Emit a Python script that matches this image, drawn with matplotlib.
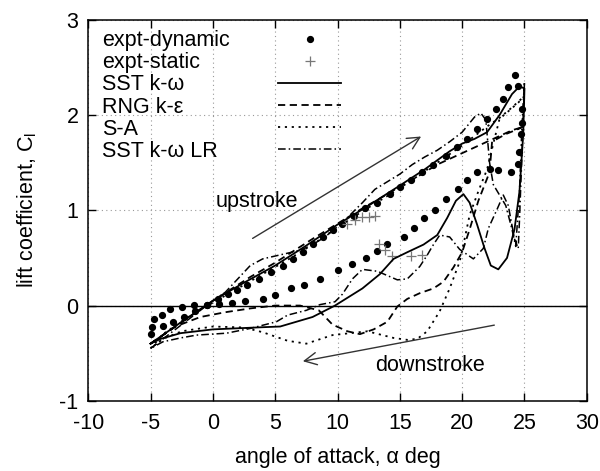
import numpy as np
import matplotlib.pyplot as plt
from matplotlib.lines import Line2D

plt.rcParams['font.family'] = ['Liberation Sans', 'DejaVu Sans']
plt.rcParams['mathtext.fontset'] = 'custom'
plt.rcParams['mathtext.rm'] = 'Liberation Sans'
plt.rcParams['mathtext.it'] = 'Liberation Sans:italic'
plt.rcParams['axes.unicode_minus'] = False

# experiment, dynamic (upstroke then downstroke)
dyn_a = [-5.0, -4.0, -3.2, -2.3, -1.4, -0.5, 0.4, 1.2, 1.9, 2.7, 3.7, 4.7, 5.6, 6.4, 7.2, 8.0, 8.8,
         9.6, 10.4, 11.3, 12.2, 13.2, 14.2, 15.0, 15.9, 16.8, 17.7, 18.7, 19.6, 20.4, 21.2, 22.0,
         22.7, 23.3, 23.7, 24.2,
         24.5, 24.8, 24.8, 24.7, 24.6, 24.5, 23.9, 22.9, 22.2, 21.2, 20.4, 19.7, 18.7, 17.8, 16.9,
         16.1, 15.3, 14.0, 13.2, 12.3, 11.2, 10.0, 8.6, 7.3, 6.3, 5.0, 4.0, 2.6, 1.5, 0.5, -0.5,
         -1.5, -2.5, -3.4, -4.1, -4.7, -4.9]
dyn_cl = [-0.30, -0.21, -0.17, -0.12, -0.06, 0.01, 0.07, 0.12, 0.16, 0.22, 0.28, 0.35, 0.42, 0.49,
          0.56, 0.65, 0.72, 0.79, 0.86, 0.94, 1.02, 1.08, 1.17, 1.24, 1.32, 1.40, 1.48, 1.57, 1.66,
          1.75, 1.85, 1.96, 2.06, 2.17, 2.29, 2.42,
          2.31, 2.06, 1.92, 1.80, 1.61, 1.49, 1.40, 1.42, 1.43, 1.40, 1.32, 1.22, 1.12, 1.00, 0.92,
          0.81, 0.72, 0.65, 0.57, 0.50, 0.44, 0.37, 0.28, 0.22, 0.18, 0.11, 0.07, 0.05, 0.03, 0.02,
          0.01, 0.01, -0.01, -0.04, -0.10, -0.14, -0.22]

# experiment, static
stat_a = [10.8, 11.4, 12.0, 12.5, 13.0, 13.3, 13.8, 14.4, 15.9, 16.8]
stat_cl = [0.86, 0.90, 0.93, 0.93, 0.94, 0.65, 0.58, 0.52, 0.52, 0.53]

# SST k-omega
sst_a = [-5, -2.5, 0, 2.5, 5, 7.5, 10, 12.5, 15, 17, 19, 20, 21, 22, 23, 24, 24.6, 25,
         24.9, 24.6, 24.2, 23.6, 22.9, 22.3, 21.8, 21.2, 20.6, 20.1, 19.5, 18.8, 18.0, 16.9,
         15.6, 14.5, 13.4, 12.0, 9.8, 8.0, 5.4, 3.5, 0, -2.6, -4.2, -5]
sst_cl = [-0.40, -0.17, 0.05, 0.24, 0.42, 0.63, 0.85, 1.05, 1.26, 1.43, 1.62, 1.70, 1.75, 1.82,
          2.00, 2.22, 2.30, 2.28,
          1.80, 1.20, 0.80, 0.50, 0.38, 0.42, 0.60, 0.85, 1.08, 1.17, 1.10, 0.92, 0.74, 0.64,
          0.56, 0.49, 0.33, 0.18, 0.00, -0.12, -0.22, -0.23, -0.25, -0.29, -0.35, -0.40]

# RNG k-epsilon
rng_a = [-5, -3, 0, 3, 5, 8, 10, 12, 14, 15, 16, 17, 18, 19, 20, 21, 22, 23, 24, 25,
         23.5, 22.4, 22.2, 21.3, 20.6, 20.0, 19.3, 18.5, 17.7, 16.6, 15.6, 14.8, 14.0, 12.9,
         11.8, 10.8, 9.6, 8.5, 7.0, 5.0, 3.0, 1.0, -1.0, -3.0, -5]
rng_cl = [-0.40, -0.22, 0.05, 0.30, 0.45, 0.70, 0.86, 1.02, 1.17, 1.25, 1.32, 1.40, 1.48, 1.54,
          1.60, 1.66, 1.72, 1.78, 1.84, 1.88,
          1.80, 1.72, 1.40, 1.10, 0.80, 0.56, 0.40, 0.25, 0.18, 0.13, 0.07, -0.01, -0.17, -0.25,
          -0.30, -0.27, -0.20, -0.05, 0.00, 0.00, -0.03, -0.07, -0.12, -0.22, -0.40]

# S-A
sa_a = [-5, -4, -2, 0, 2, 4, 6, 8, 10, 12, 14, 16, 18, 20, 21, 22, 23, 24, 25,
        24.5, 23.8, 23.0, 22.5, 22.0, 21.3, 20.6, 20.2, 19.8, 19.0, 18.2, 17.2, 16.4, 15.6,
        14.5, 12.4, 9.6, 7.5, 6.0, 4.0, 2.5, 0.0, -2.5, -4.0, -5]
sa_cl = [-0.45, -0.30, -0.12, 0.03, 0.18, 0.33, 0.48, 0.64, 0.82, 0.99, 1.15, 1.32, 1.50, 1.68,
         1.78, 1.88, 1.97, 2.08, 2.20,
         2.13, 2.05, 1.96, 1.70, 1.43, 1.20, 0.95, 0.70, 0.46, 0.18, -0.06, -0.27, -0.35, -0.36,
         -0.34, -0.27, -0.31, -0.40, -0.37, -0.28, -0.23, -0.22, -0.27, -0.35, -0.45]

# SST k-omega LR
lr_a = [-5, -3, -1, 0, 1, 2, 3, 4, 5, 6, 7, 8, 9, 10, 11, 12, 13, 14, 15, 16, 17, 18, 19, 20,
        21, 21.5, 21.9, 22.2, 22.5, 23.0, 23.5, 24.0, 24.3, 24.6, 24.8, 25,
        24.8, 24.6, 24.5, 24.2, 23.7, 23.3, 22.8, 22.1, 21.7, 20.9, 19.8, 19.0, 18.2, 17.6, 17.2,
        16.6, 15.6, 14.8, 13.2, 12.0, 11.2, 10.4, 9.8, 8.6, 7.5, 6.0, 5.1, 3.0, 1.1, -1.3, -2.6,
        -4.0, -5]
lr_cl = [-0.45, -0.25, -0.05, 0.05, 0.14, 0.28, 0.42, 0.49, 0.52, 0.55, 0.58, 0.64, 0.72, 0.83,
         0.95, 1.08, 1.22, 1.30, 1.38, 1.48, 1.56, 1.63, 1.72, 1.82, 1.98, 2.02, 1.95, 1.50, 1.27,
         1.16, 1.05, 0.80, 0.62, 1.20, 1.90, 2.35,
         1.60, 0.90, 0.60, 0.70, 1.05, 1.16, 1.01, 0.81, 0.60, 0.49, 0.59, 0.72, 0.74, 0.62, 0.53,
         0.41, 0.28, 0.27, 0.36, 0.38, 0.28, 0.12, 0.04, 0.01, -0.05, -0.10, -0.17, -0.24, -0.29,
         -0.31, -0.34, -0.38, -0.45]

FS = 15.5

fig = plt.figure(figsize=(6, 4.71), dpi=100)
ax = fig.add_axes([0.147, 0.149, 0.831, 0.809])

ax.grid(True, color='#999999', linestyle=(0, (1, 3)), linewidth=0.8)
ax.axhline(0, color='black', linewidth=1.0)

h_dyn, = ax.plot(dyn_a, dyn_cl, 'o', color='black', markersize=4.2, label='expt-dynamic')
h_stat, = ax.plot(stat_a, stat_cl, '+', color='#777777', markersize=7, markeredgewidth=0.9,
                  label='expt-static')
h_sst, = ax.plot(sst_a, sst_cl, '-', color='black', linewidth=1.3, label='SST k-ω')
h_rng, = ax.plot(rng_a, rng_cl, color='black', linewidth=1.3, linestyle=(0, (4, 2.5)),
                 label='RNG k-ε')
h_sa, = ax.plot(sa_a, sa_cl, color='black', linewidth=1.3, linestyle=(0, (1.2, 2.6)), label='S-A')
h_lr, = ax.plot(lr_a, lr_cl, color='black', linewidth=1.1, linestyle=(0, (5, 2, 1, 2)),
                label='SST k-ω LR')

# annotations
ax.annotate('', xy=(16.9, 1.79), xytext=(3.0, 0.69),
            arrowprops=dict(arrowstyle='->', color='#333333', lw=1.0, mutation_scale=22))
ax.text(3.5, 1.09, 'upstroke', fontsize=FS, ha='center', va='center')
ax.annotate('', xy=(7.0, -0.59), xytext=(22.8, -0.20),
            arrowprops=dict(arrowstyle='->', color='#333333', lw=1.0, mutation_scale=22))
ax.text(17.4, -0.63, 'downstroke', fontsize=FS, ha='center', va='center')

ax.set_xlim(-10, 30)
ax.set_ylim(-1, 3)
ax.set_xticks(np.arange(-10, 31, 5))
ax.set_yticks(np.arange(-1, 4, 1))
ax.tick_params(direction='in', length=6, width=1, top=True, right=True, labelsize=FS)
ax.tick_params(axis='x', pad=9)
ax.tick_params(axis='y', pad=7)
for s in ax.spines.values():
    s.set_linewidth(1.1)
ax.set_xlabel('angle of attack, α deg', fontsize=FS, labelpad=9)
ax.set_ylabel('lift coefficient, C$_\\mathregular{l}$', fontsize=FS, labelpad=15)

handles = [h_dyn, h_stat, h_sst, h_rng, h_sa, h_lr]
labels = [h.get_label() for h in handles]
blank = [Line2D([], [], linestyle='none') for h in handles]
leg_text = ax.legend(blank, labels, loc='upper left', bbox_to_anchor=(0.01, 0.995), frameon=False,
                     fontsize=FS, handlelength=0, handletextpad=0, labelspacing=0.05,
                     borderaxespad=0.0)
ax.add_artist(leg_text)
ax.legend(handles, [' '] * 6, loc='upper left', bbox_to_anchor=(0.364, 0.995), frameon=False,
          fontsize=FS, handlelength=2.9, handletextpad=0, labelspacing=0.05, borderaxespad=0.0,
          numpoints=1)

fig.savefig('out.png', dpi=100)
